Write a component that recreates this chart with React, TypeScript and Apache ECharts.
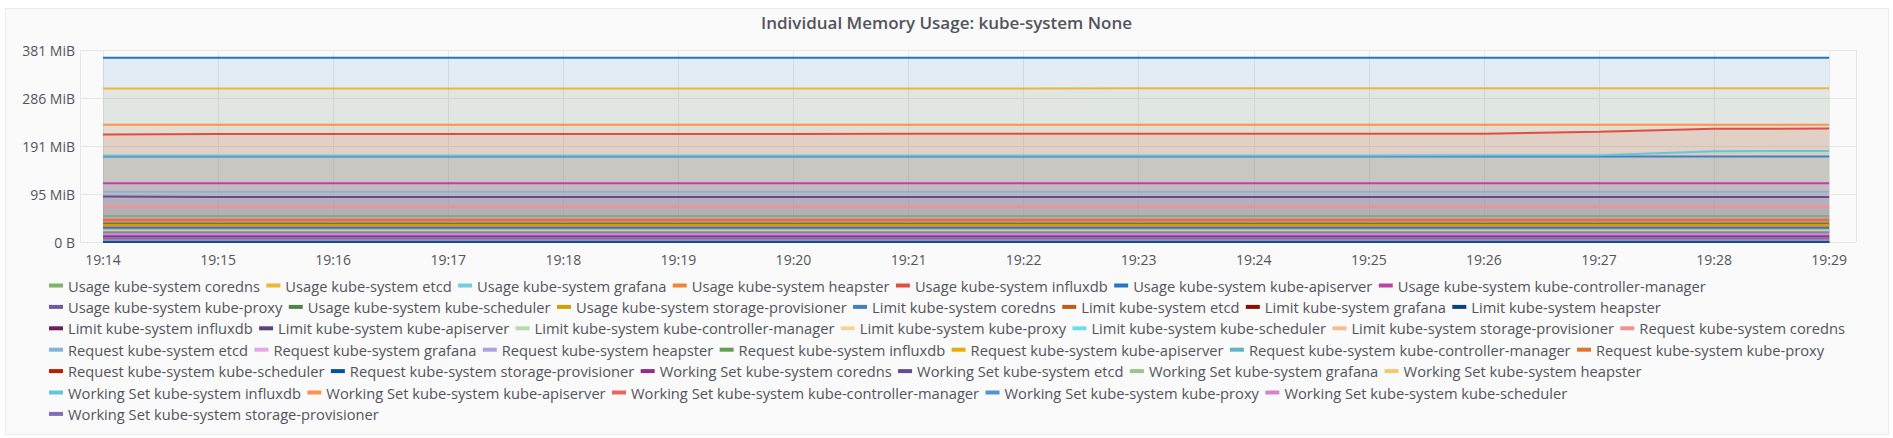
import React, { useEffect, useRef } from 'react';
import * as echarts from 'echarts';

// ---- data ----
const TIME_LABELS = ['19:14', '19:15', '19:16', '19:17', '19:18', '19:19', '19:20', '19:21', '19:22', '19:23', '19:24', '19:25', '19:26', '19:27', '19:28', '19:29'];
const AXIS_START = '19:13:48';
const AXIS_END = '19:29:14';
const Y_MAX_BYTES = 400000000;
const Y_STEP_BYTES = 100000000;

const SERIES_NAMES = [
  'Usage kube-system coredns', 'Usage kube-system etcd', 'Usage kube-system grafana', 'Usage kube-system heapster',
  'Usage kube-system influxdb', 'Usage kube-system kube-apiserver', 'Usage kube-system kube-controller-manager',
  'Usage kube-system kube-proxy', 'Usage kube-system kube-scheduler', 'Usage kube-system storage-provisioner',
  'Limit kube-system coredns', 'Limit kube-system etcd', 'Limit kube-system grafana', 'Limit kube-system heapster',
  'Limit kube-system influxdb', 'Limit kube-system kube-apiserver', 'Limit kube-system kube-controller-manager',
  'Limit kube-system kube-proxy', 'Limit kube-system kube-scheduler', 'Limit kube-system storage-provisioner',
  'Request kube-system coredns', 'Request kube-system etcd', 'Request kube-system grafana', 'Request kube-system heapster',
  'Request kube-system influxdb', 'Request kube-system kube-apiserver', 'Request kube-system kube-controller-manager',
  'Request kube-system kube-proxy', 'Request kube-system kube-scheduler', 'Request kube-system storage-provisioner',
  'Working Set kube-system coredns', 'Working Set kube-system etcd', 'Working Set kube-system grafana',
  'Working Set kube-system heapster', 'Working Set kube-system influxdb', 'Working Set kube-system kube-apiserver',
  'Working Set kube-system kube-controller-manager', 'Working Set kube-system kube-proxy',
  'Working Set kube-system kube-scheduler', 'Working Set kube-system storage-provisioner',
];

const COLORS = [
  '#7EB26D', '#EAB839', '#6ED0E0', '#EF843C', '#E24D42', '#1F78C1', '#BA43A9', '#705DA0', '#508642', '#CCA300',
  '#447EBC', '#C15C17', '#890F02', '#0A437C', '#6D1F62', '#584477', '#B7DBAB', '#F4D598', '#70DBED', '#F9BA8F',
  '#F29191', '#82B5D8', '#E5A8E2', '#AEA2E0', '#629E51', '#E5AC0E', '#64B0C8', '#E0752D', '#BF1B00', '#0A50A1',
  '#962D82', '#614D93', '#9AC48A', '#F2C96D', '#65C5DB', '#F9934E', '#EA6460', '#5195CE', '#D683CE', '#806EB7',
];

// values in MiB, one per minute 19:14 .. 19:29
const usageCoredns = [51.7, 51.7, 51.7, 51.7, 51.7, 51.7, 51.7, 51.7, 51.7, 51.7, 51.7, 51.7, 51.7, 51.7, 51.8, 51.8];
const usageEtcd = [304.8, 304.8, 304.8, 304.8, 304.9, 304.9, 304.9, 304.9, 305.2, 305.3, 305.3, 305.3, 305.3, 305.4, 305.6, 305.6];
const usageGrafana = [26.0, 26.0, 26.0, 26.0, 26.0, 26.0, 26.0, 26.0, 26.0, 26.0, 26.0, 26.0, 26.0, 26.0, 26.0, 26.0];
const usageHeapster = [40.5, 40.5, 40.5, 40.5, 40.5, 40.5, 40.5, 40.5, 40.5, 40.5, 40.5, 40.5, 40.5, 40.5, 40.5, 40.5];
const usageInfluxdb = [213.8, 214.6, 214.7, 214.8, 214.8, 214.8, 214.8, 214.9, 215.0, 215.0, 215.0, 215.1, 215.3, 218.8, 224.9, 225.4];
const usageApiserver = [366.2, 366.2, 366.2, 366.2, 366.2, 366.2, 366.2, 366.2, 366.2, 366.2, 366.2, 366.2, 366.2, 366.2, 366.2, 366.2];
const usageControllerManager = [116.6, 116.6, 116.6, 116.6, 116.6, 116.6, 116.6, 116.6, 116.6, 116.6, 116.6, 116.6, 116.6, 116.6, 116.6, 116.6];
const usageKubeProxy = [28.5, 28.5, 28.5, 28.5, 28.5, 28.5, 28.5, 28.5, 28.5, 28.5, 28.5, 28.5, 28.5, 28.5, 28.5, 28.5];
const usageScheduler = [36.5, 36.5, 36.5, 36.5, 36.5, 36.5, 36.5, 36.5, 36.5, 36.5, 36.5, 36.5, 36.5, 36.5, 36.5, 36.5];
const usageStorageProvisioner = [33.6, 33.6, 33.6, 33.6, 33.6, 33.6, 33.6, 33.6, 33.6, 33.6, 33.6, 33.6, 33.6, 33.6, 33.6, 33.6];
const limitCoredns = [170, 170, 170, 170, 170, 170, 170, 170, 170, 170, 170, 170, 170, 170, 170, 170];
const limitEtcd = [0, 0, 0, 0, 0, 0, 0, 0, 0, 0, 0, 0, 0, 0, 0, 0];
const limitGrafana = [0, 0, 0, 0, 0, 0, 0, 0, 0, 0, 0, 0, 0, 0, 0, 0];
const limitHeapster = [0, 0, 0, 0, 0, 0, 0, 0, 0, 0, 0, 0, 0, 0, 0, 0];
const limitInfluxdb = [0, 0, 0, 0, 0, 0, 0, 0, 0, 0, 0, 0, 0, 0, 0, 0];
const limitApiserver = [0, 0, 0, 0, 0, 0, 0, 0, 0, 0, 0, 0, 0, 0, 0, 0];
const limitControllerManager = [0, 0, 0, 0, 0, 0, 0, 0, 0, 0, 0, 0, 0, 0, 0, 0];
const limitKubeProxy = [0, 0, 0, 0, 0, 0, 0, 0, 0, 0, 0, 0, 0, 0, 0, 0];
const limitScheduler = [0, 0, 0, 0, 0, 0, 0, 0, 0, 0, 0, 0, 0, 0, 0, 0];
const limitStorageProvisioner = [0, 0, 0, 0, 0, 0, 0, 0, 0, 0, 0, 0, 0, 0, 0, 0];
const requestCoredns = [70, 70, 70, 70, 70, 70, 70, 70, 70, 70, 70, 70, 70, 70, 70, 70];
const requestEtcd = [100, 100, 100, 100, 100, 100, 100, 100, 100, 100, 100, 100, 100, 100, 100, 100];
const requestGrafana = [0, 0, 0, 0, 0, 0, 0, 0, 0, 0, 0, 0, 0, 0, 0, 0];
const requestHeapster = [0, 0, 0, 0, 0, 0, 0, 0, 0, 0, 0, 0, 0, 0, 0, 0];
const requestInfluxdb = [0, 0, 0, 0, 0, 0, 0, 0, 0, 0, 0, 0, 0, 0, 0, 0];
const requestApiserver = [0, 0, 0, 0, 0, 0, 0, 0, 0, 0, 0, 0, 0, 0, 0, 0];
const requestControllerManager = [0, 0, 0, 0, 0, 0, 0, 0, 0, 0, 0, 0, 0, 0, 0, 0];
const requestKubeProxy = [0, 0, 0, 0, 0, 0, 0, 0, 0, 0, 0, 0, 0, 0, 0, 0];
const requestScheduler = [0, 0, 0, 0, 0, 0, 0, 0, 0, 0, 0, 0, 0, 0, 0, 0];
const requestStorageProvisioner = [0, 0, 0, 0, 0, 0, 0, 0, 0, 0, 0, 0, 0, 0, 0, 0];
const wsCoredns = [11.3, 11.3, 11.3, 11.3, 11.3, 11.3, 11.3, 11.3, 11.3, 11.3, 11.3, 11.3, 11.3, 11.3, 11.3, 11.3];
const wsEtcd = [90.2, 89.4, 89.4, 89.4, 89.4, 89.4, 89.4, 89.4, 89.5, 89.5, 89.5, 89.5, 89.5, 89.5, 89.6, 89.6];
const wsGrafana = [23.5, 23.5, 23.5, 23.5, 23.5, 23.5, 23.5, 23.5, 23.5, 23.5, 23.5, 23.5, 23.5, 23.5, 23.5, 23.5];
const wsHeapster = [21.9, 21.9, 21.9, 21.9, 21.9, 21.9, 21.9, 21.9, 21.9, 21.9, 21.9, 21.9, 21.9, 21.9, 21.9, 21.9];
const wsInfluxdb = [172.0, 172.1, 172.1, 172.1, 172.1, 172.1, 172.1, 172.1, 172.1, 172.1, 172.1, 172.1, 172.2, 172.3, 180.2, 180.9];
const wsApiserver = [233.0, 233.0, 233.0, 233.0, 233.0, 233.0, 233.0, 233.0, 233.0, 233.0, 233.0, 233.0, 233.0, 233.0, 233.0, 233.0];
const wsControllerManager = [44.3, 44.3, 44.3, 44.3, 44.3, 44.3, 44.3, 44.3, 44.3, 44.3, 44.3, 44.3, 44.3, 44.3, 44.3, 44.3];
const wsKubeProxy = [19.3, 19.3, 19.3, 19.3, 19.3, 19.3, 19.3, 19.3, 19.3, 19.3, 19.3, 19.3, 19.3, 19.3, 19.3, 19.3];
const wsScheduler = [15.3, 15.3, 15.3, 15.3, 15.3, 15.3, 15.3, 15.3, 15.3, 15.3, 15.3, 15.3, 15.3, 15.3, 15.3, 15.3];
const wsStorageProvisioner = [7.4, 7.4, 7.4, 7.4, 7.4, 7.4, 7.4, 7.4, 7.4, 7.4, 7.4, 7.4, 7.4, 7.4, 7.4, 7.4];

const SERIES_VALUES = [
  usageCoredns, usageEtcd, usageGrafana, usageHeapster, usageInfluxdb, usageApiserver, usageControllerManager,
  usageKubeProxy, usageScheduler, usageStorageProvisioner,
  limitCoredns, limitEtcd, limitGrafana, limitHeapster, limitInfluxdb, limitApiserver, limitControllerManager,
  limitKubeProxy, limitScheduler, limitStorageProvisioner,
  requestCoredns, requestEtcd, requestGrafana, requestHeapster, requestInfluxdb, requestApiserver,
  requestControllerManager, requestKubeProxy, requestScheduler, requestStorageProvisioner,
  wsCoredns, wsEtcd, wsGrafana, wsHeapster, wsInfluxdb, wsApiserver, wsControllerManager, wsKubeProxy,
  wsScheduler, wsStorageProvisioner,
];

const MIB = 1048576;
const FONT = '"Open Sans", "Noto Sans", sans-serif';
const TEXT = '#52545c';

function toTs(hms: string): number {
  const p = hms.split(':').map(Number);
  return new Date(2019, 0, 1, p[0], p[1], p[2] || 0).getTime();
}

function formatBytes(v: number): string {
  if (v === 0) return '0 B';
  return Math.round(v / MIB) + ' MiB';
}

export default function App() {
  const ref = useRef<HTMLDivElement>(null);

  useEffect(() => {
    if (!ref.current) return;
    const chart = echarts.init(ref.current, undefined, { renderer: 'svg' });
    const times = TIME_LABELS.map((t) => toTs(t));
    chart.setOption({
      animation: false,
      textStyle: { fontFamily: FONT },
      title: {
        text: 'Individual Memory Usage: kube-system None',
        left: 'center',
        top: 14,
        padding: 0,
        textStyle: { fontSize: 17, fontWeight: 600, color: TEXT, fontFamily: FONT },
      },
      grid: { left: 80, right: 37, top: 50, bottom: 196, containLabel: false },
      xAxis: {
        type: 'time',
        min: toTs(AXIS_START),
        max: toTs(AXIS_END),
        minInterval: 60000,
        maxInterval: 60000,
        axisLine: { show: false },
        axisTick: { show: false },
        axisLabel: {
          formatter: '{HH}:{mm}',
          color: TEXT,
          fontSize: 14,
          fontFamily: FONT,
          margin: 10,
          showMinLabel: false,
          showMaxLabel: false,
          hideOverlap: false,
        },
        splitLine: { show: true, lineStyle: { color: '#e6e6e6', width: 1 } },
      },
      yAxis: {
        type: 'value',
        min: 0,
        max: Y_MAX_BYTES,
        interval: Y_STEP_BYTES,
        axisLine: { show: false },
        axisTick: { show: false },
        axisLabel: { formatter: formatBytes, color: TEXT, fontSize: 14, fontFamily: FONT, margin: 5 },
        splitLine: { show: true, lineStyle: { color: '#e6e6e6', width: 1 } },
      },
      legend: {
        data: SERIES_NAMES,
        left: 49,
        width: 1805,
        top: 278,
        padding: 0,
        icon: 'rect',
        itemWidth: 14,
        itemHeight: 4,
        itemGap: 6.4,
        selectedMode: false,
        textStyle: { fontSize: 14.7, color: TEXT, fontFamily: FONT, padding: [0, 6.4, 0, 0] },
      },
      series: SERIES_NAMES.map((name, i) => ({
        name,
        type: 'line',
        data: SERIES_VALUES[i].map((v, j) => [times[j], v * MIB]),
        symbol: 'none',
        showSymbol: false,
        silent: true,
        color: COLORS[i],
        lineStyle: { width: 2, color: COLORS[i] },
        itemStyle: { color: COLORS[i] },
        areaStyle: { color: COLORS[i], opacity: 0.1 },
        emphasis: { disabled: true },
      })),
    });
    return () => chart.dispose();
  }, []);

  return (
    <div style={{ position: 'fixed', left: 0, top: 0, width: 1893, height: 438, background: '#ffffff' }}>
      <div
        style={{
          position: 'absolute',
          left: 5,
          top: 8,
          width: 1882,
          height: 425,
          background: '#fafafa',
          border: '1px solid #ececec',
        }}
      />
      <div ref={ref} style={{ position: 'absolute', left: 0, top: 0, width: 1893, height: 438 }} />
    </div>
  );
}
